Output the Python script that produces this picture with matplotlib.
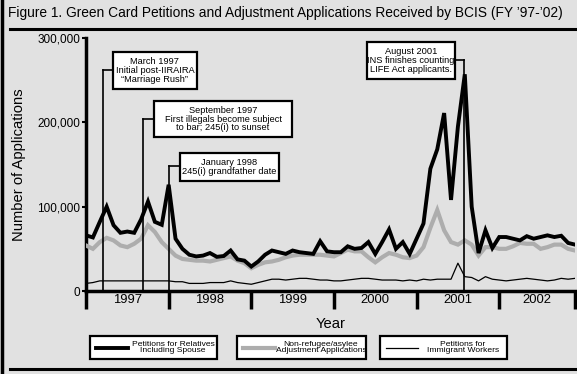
import matplotlib
matplotlib.use("Agg")
import matplotlib.pyplot as plt
from matplotlib.patches import Rectangle
from matplotlib.lines import Line2D
from matplotlib import font_manager as fm

names = {f.name for f in fm.fontManager.ttflist}
FONT = "Liberation Sans Narrow" if "Liberation Sans Narrow" in names else "Liberation Sans"
NARROW = FONT == "Liberation Sans Narrow"
plt.rcParams['font.family'] = [FONT, 'DejaVu Sans']

# ---- data (monthly, Jan 1997 .. Dec 2002) ----
relatives = [66000, 63500, 82000, 100000, 78000, 69000, 70500, 69000, 85000, 106000, 82000, 78500,
             126000, 62000, 50000, 43000, 41000, 42000, 45000, 40500, 41500, 48000, 37500, 36000,
             29000, 35000, 43000, 48000, 46000, 44000, 48000, 46000, 45000, 44000, 59000, 47000,
             46000, 46000, 53000, 50000, 51000, 58000, 44000, 58000, 73000, 50000, 58000, 44000,
             62000, 80000, 145000, 168000, 211000, 108000, 195000, 257000, 100000, 45000, 72000, 51000,
             64000, 64000, 62000, 60000, 65000, 62000, 64000, 66000, 64000, 65500, 57000, 55000]
adjustment = [54000, 50000, 58000, 63000, 60000, 54000, 52000, 56000, 62000, 78000, 70000, 58000,
              50000, 42000, 38000, 37000, 36000, 36000, 35000, 37000, 39000, 41000, 36000, 33000,
              27000, 31000, 34000, 35000, 37000, 40000, 42000, 43000, 43000, 43000, 43000, 42000,
              41000, 45000, 49000, 47000, 47000, 40000, 34000, 40000, 45000, 43000, 40000, 39000,
              42000, 52000, 75000, 96000, 72000, 58000, 55000, 60000, 55000, 42000, 52000, 52000,
              50000, 50000, 53000, 57000, 56000, 56000, 50000, 52000, 55000, 55000, 50000, 48000]
workers = [9000, 10000, 12000, 12000, 12000, 12000, 12000, 12000, 12000, 12000, 12000, 12000,
           12000, 11000, 11000, 9000, 9000, 9000, 10000, 10000, 10000, 12000, 10000, 9000,
           8000, 10000, 12000, 14000, 14000, 13000, 14000, 15000, 15000, 14000, 13000, 13000,
           12000, 12000, 13000, 14000, 15000, 15000, 14000, 13000, 13000, 13000, 12000, 13000,
           12000, 14000, 13000, 14000, 14000, 14000, 33000, 17000, 16000, 12000, 17000, 14000,
           13000, 12000, 13000, 14000, 15000, 14000, 13000, 12000, 13000, 15000, 14000, 15000]
months = list(range(len(relatives)))
years = ["1997", "1998", "1999", "2000", "2001", "2002"]
year_starts = [0, 12, 24, 36, 48, 60, 71]
year_centers = [6, 18, 30, 42, 54, 65.5]
yticks = [0, 100000, 200000, 300000]
ytick_labels = ["0", "100,000", "200,000", "300,000"]

legend_labels = ["Petitions for Relatives\nIncluding Spouse",
                 "Non-refugee/asylee\nAdjustment Applications",
                 "Petitions for\nImmigrant Workers"]

# annotations: (event month, text, box x0, box x1, box y0, box y1, connector y, side)
events = [
    (2.45, "March 1997\nInitial post-IIRAIRA\n\u201cMarriage Rush\u201d", 3.9, 16.1, 239500, 283400, 262000, "right"),
    (8.3, "September 1997\nFirst illegals become subject\nto bar; 245(i) to sunset", 9.9, 29.9, 182600, 225300, 204000, "right"),
    (12.05, "January 1998\n245(i) grandfather date", 13.65, 28.0, 130400, 163600, 148000, "right"),
    (54.9, "August 2001\nINS finishes counting\nLIFE Act applicants.", 40.8, 53.6, 251400, 295300, 274000, "left"),
]

s = 1.0 if NARROW else 0.85
BG = "#e1e1e1"
GRAY = "#adadad"
fig = plt.figure(figsize=(5.77, 3.74), dpi=100, facecolor=BG)
W, H = 577, 374
def fx(px): return px / W
def fy(py): return 1 - py / H

ax = fig.add_axes([fx(86), fy(291), fx(575) - fx(86), fy(38) - fy(291)])
ax.set_facecolor(BG)
ax.set_xlim(0, 71)
ax.set_ylim(0, 300000)

ax.plot(months, adjustment, color=GRAY, lw=3.0, solid_joinstyle="miter", zorder=3)
ax.plot(months, workers, color="black", lw=0.9, zorder=3)
ax.plot(months, relatives, color="black", lw=2.8, solid_joinstyle="miter", zorder=4)

for sp in ["top", "right"]:
    ax.spines[sp].set_visible(False)
ax.spines["left"].set_linewidth(2.5)
ax.spines["bottom"].set_linewidth(2.5)
ax.spines["left"].set_bounds(0, 300000)

ax.set_yticks(yticks)
ax.set_yticklabels(ytick_labels, fontsize=10 * s)
ax.tick_params(axis="y", length=3, width=1.5, pad=1)
ax.set_xticks(year_starts)
ax.set_xticklabels([""] * len(year_starts))
ax.tick_params(axis="x", which="major", length=13, width=2.5, direction="out")
ax.set_xticks(year_centers, minor=True)
ax.set_xticklabels(years, minor=True, fontsize=11 * s)
ax.tick_params(axis="x", which="minor", length=0, pad=2)

ax.set_ylabel("Number of Applications", fontsize=12.5 * s, labelpad=8)
ax.set_xlabel("Year", fontsize=12.5 * s, labelpad=2)

for ex, txt, x0, x1, y0, y1, yc, side in events:
    ax.plot([ex, ex], [0, yc], color="black", lw=1.2, zorder=5, clip_on=False)
    edge = x0 if side == "right" else x1
    ax.plot([ex, edge], [yc, yc], color="black", lw=1.2, zorder=5, clip_on=False)
    ax.add_patch(Rectangle((x0, y0), x1 - x0, y1 - y0, facecolor="white",
                           edgecolor="black", lw=1.6, zorder=6, clip_on=False))
    ax.text((x0 + x1) / 2, (y0 + y1) / 2, txt, ha="center", va="center",
            fontsize=7.8 * s, linespacing=0.95, zorder=7)

# title and frame lines
fig.text(fx(8), fy(13), "Figure 1. Green Card Petitions and Adjustment Applications Received by BCIS (FY \u201997-\u201902)",
         fontsize=11.6 * s, ha="left", va="center")
fig.add_artist(Line2D([fx(10), 1], [fy(29), fy(29)], color="black", lw=2.2))
fig.add_artist(Line2D([fx(10), 1], [fy(369), fy(369)], color="black", lw=2.2))
fig.add_artist(Line2D([fx(1.5), fx(1.5)], [0, 1], color="black", lw=2.5))

# legend boxes
legend_boxes = [(90, 217), (237, 366), (380, 507)]
styles = [dict(color="black", lw=2.8), dict(color=GRAY, lw=3.0), dict(color="black", lw=0.9)]
for (bx0, bx1), lab, st in zip(legend_boxes, legend_labels, styles):
    fig.add_artist(Rectangle((fx(bx0), fy(359)), fx(bx1) - fx(bx0), fy(336) - fy(359),
                             facecolor="white", edgecolor="black", lw=1.6, transform=fig.transFigure))
    fig.add_artist(Line2D([fx(bx0 + 6), fx(bx0 + 38)], [fy(348), fy(348)], transform=fig.transFigure, **st))
    fig.text(fx((bx0 + 39 + bx1) / 2), fy(347.5), lab, ha="center", va="center",
             fontsize=7.2 * s, linespacing=0.9)

fig.savefig("out.png", dpi=100, facecolor=BG)
